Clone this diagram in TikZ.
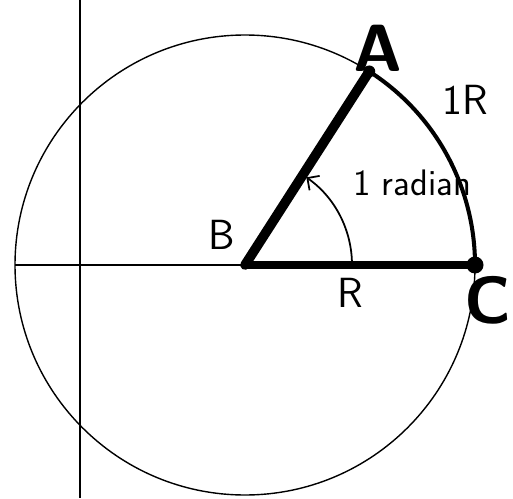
\documentclass[tikz,border=0pt]{standalone}
\usepackage{tikz}
\usepackage{xcolor}
\usetikzlibrary{arrows.meta}
\definecolor{inkc}{HTML}{000000}
\tikzset{
  rim/.style={draw=inkc, line width=0.8pt},
  guide/.style={draw=inkc, line width=1.0pt},
  spoke/.style={draw=inkc, line width=5.5pt, line cap=round},
  base/.style={draw=inkc, line width=4pt, line cap=round},
  bow/.style={draw=inkc, line width=2.3pt, line cap=round},
  tag/.style={font=\sffamily\fontsize{24}{26}\selectfont},
  smalltag/.style={font=\sffamily\fontsize{21}{23}\selectfont},
  bigtag/.style={font=\sffamily\bfseries\fontsize{38}{42}\selectfont},
}

\begin{document}
\begin{tikzpicture}
\useasboundingbox (-4.900,-4.660) rectangle (5.360,5.300);
\coordinate (B) at (0,0);
\coordinate (C) at (0:4.600);
\coordinate (A) at (57.3:4.600);
\coordinate (W) at (180:4.600);
\coordinate (top) at (-3.300,5.300);
\coordinate (bot) at (-3.300,-4.660);
\draw[guide] (top) -- (bot);
\draw[rim] (B) circle (4.600);
\draw[rim] (W) -- (B);
\draw[bow] (C) arc (0:57.3:4.600);
\draw[spoke] (B) -- (A);
\draw[base] (B) -- (C);
\fill[inkc] (C) circle (0.170);
\fill[inkc] (A) circle (0.120);
\draw[line width=1pt, -{Straight Barb[length=5pt,width=10pt]}] (2.140,0) arc (0:55:2.140);
\node[bigtag] (lA) at (2.660,4.340) {A};
\node[bigtag] (lC) at (4.860,-0.700) {C};
\node[tag] (lB) at (-0.460,0.600) {B};
\node[tag] (lR) at (2.100,-0.560) {R};
\node[tag] (lIR) at (4.400,3.300) {1R};
\node[smalltag] (lrad) at (3.340,1.640) {1 radian};
\end{tikzpicture}
\end{document}
